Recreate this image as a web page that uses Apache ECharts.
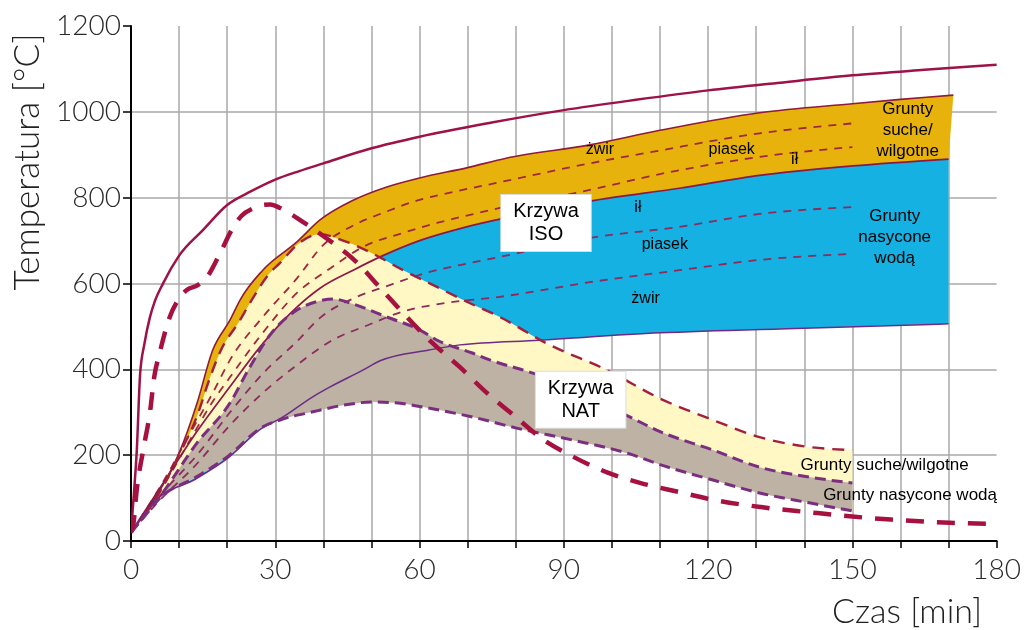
<!DOCTYPE html>
<html><head><meta charset="utf-8">
<script src="https://cdn.jsdelivr.net/npm/echarts@6/dist/echarts.min.js"></script>
<style>html,body{margin:0;padding:0;background:#fff}#c{width:1024px;height:630px}</style>
</head><body><div id="c"></div>
<script>
// x = czas [min], y = temperatura [°C]
const xTickLabels = [0, 30, 60, 90, 120, 150, 180];
const yTickLabels = [0, 200, 400, 600, 800, 1000, 1200];

const isoCurve = [[0,20],[0.6,110],[1.2,210],[1.9,390],[2.8,460],[3.9,520],[5,560],[6.7,601],[10,665],[15,725],[20,783],[25,815],[30,842],[35,862],[40,880],[50,915],[60,942],[75,975],[90,1004],[105,1028],[120,1050],[135,1068],[150,1085],[165,1098],[180,1110]];
const natCurve = [[0,20],[0.5,40],[1.2,120],[2.5,210],[4,305],[4.8,380],[6,440],[8,520],[10,565],[11.6,585],[13.7,595],[15.8,615],[18.5,670],[21.2,730],[23,758],[25.4,775],[27.4,783],[29,784],[31,776],[35.8,743],[40.7,705],[46.9,650],[51.8,590],[56.6,531],[62.6,462],[68.4,405],[74,345],[80,289],[85,242],[92,196],[99,160],[106,135],[114,114],[121,96],[131,79],[141,67],[150,57],[158,50],[169,43],[180,40]];

// ISO – grunty suche/wilgotne (pasmo pomarańczowe)
const isoDryTop = [[0,20],[5,100],[10,205],[13.7,320],[17,445],[20.6,515],[22.7,562],[27.4,631],[34.5,697],[39.3,748],[46.2,794],[53.2,825],[60,846],[70,870],[78,892],[95.4,923],[110,957],[130.7,998],[150,1019],[160,1029],[171,1039]];
const isoDryGravel = [[0,20],[6,125],[12,245],[17,345],[20.6,422],[27.4,522],[34.5,612],[40,690],[46.2,735],[53.2,768],[60,795],[66.9,813],[76.7,836],[95.4,880],[110,910],[130.7,950],[150,973]];
const isoDrySand = [[0,20],[6,115],[12,230],[17,325],[20.6,382],[27.4,485],[34.5,578],[41.4,635],[48.2,685],[56.6,718],[63.6,741],[70.5,760],[76.7,776],[95.4,818],[110,855],[130.7,895],[150,918]];
// granica suche / nasycone
const isoSplit = [[0,20],[6.7,135],[13.7,255],[20.6,360],[27.4,460],[34.5,545],[39.3,589],[46.2,631],[51.8,662],[60,700],[68.4,728],[76.7,750],[95.4,792],[114,822],[130.7,852],[150,874],[170,890]];
// ISO – grunty nasycone wodą (pasmo niebieskie)
const isoWetClaySand = [[0,20],[6,105],[13.7,200],[20.6,300],[27.4,390],[34.5,465],[39.3,520],[46.2,565],[53.2,594],[61.5,625],[68.4,643],[76.7,662],[95.4,706],[114,732],[130.7,762],[150,778]];
const isoWetSandGravel = [[0,20],[6,95],[13.7,180],[20.6,270],[27.4,345],[34.5,410],[41.4,465],[49.7,505],[56.6,535],[65.7,555],[76.7,569],[95.4,603],[114,631],[130.7,655],[150,669]];
const isoWetBottom = [[0,20],[5,93],[13.7,146],[20,192],[27.4,264],[31,285],[37.8,336],[41.4,359],[48.2,398],[51.8,420],[62,445],[68.4,457],[85,468],[110,485],[140,496],[170,506]];

// NAT – pasma
const natDryTop = [[0,20],[5.4,103],[10.2,205],[13.7,290],[16.4,380],[18.5,440],[22.7,515],[24.7,554],[28.9,625],[31,648],[34.5,690],[39.3,715],[43.4,703],[49.7,673],[56.6,631],[63.6,592],[70.5,554],[76.7,522],[86.5,460],[99,398],[110,332],[121,282],[130.7,242],[141,219],[150,212]];
const natWetTop = [[0,20],[6,103],[13.7,228],[20.6,322],[24.7,405],[28.9,480],[34.5,538],[38.7,558],[42,564],[46.2,552],[53.2,522],[60,492],[64,466],[71,438],[74.6,422],[83.6,391],[103.7,289],[110,255],[121,212],[130.7,172],[141,149],[150,135]];
const natWetBottom = [[0,20],[3,62],[6,100],[13.7,150],[20,196],[27.4,266],[31,282],[37.8,301],[45,318],[50,324],[55,322],[60.7,312],[71,289],[80.2,263],[91.9,235],[103.7,203],[110,178],[121,142],[130.7,112],[141,89],[150,70]];

const soilLabels = [
  [97.5, 913, 'żwir'], [124.9, 911, 'piasek'], [138, 888, 'ił'],
  [105.4, 778, 'ił'], [111, 690, 'piasek'], [107, 564, 'żwir']
];
const groupLabels = [
  [161.5, 958, 'Grunty\nsuche/\nwilgotne'],
  [158.8, 708, 'Grunty\nnasycone\nwodą']
];
const natLabels = [
  [156.7, 177, 'Grunty suche/wilgotne'],
  [162, 107, 'Grunty nasycone wodą']
];
const curveBoxes = [
  [86.3, 741, 'Krzywa\nISO'],
  [93.5, 329, 'Krzywa\nNAT']
];

// monotone-x cubic segments through pixel points (rendering only)
function monoSegs(pts) {
  const n = pts.length, h = [], s = [], t = new Array(n);
  for (let i = 0; i < n - 1; i++) {
    h[i] = Math.max(pts[i + 1][0] - pts[i][0], 1e-6);
    s[i] = (pts[i + 1][1] - pts[i][1]) / h[i];
  }
  for (let i = 1; i < n - 1; i++) {
    const s0 = s[i - 1], s1 = s[i], h0 = h[i - 1], h1 = h[i];
    const p = (s0 * h1 + s1 * h0) / (h0 + h1);
    t[i] = (Math.sign(s0) + Math.sign(s1)) * Math.min(Math.abs(s0), Math.abs(s1), 0.5 * Math.abs(p)) || 0;
  }
  if (n > 2) { t[0] = (3 * s[0] - t[1]) / 2; t[n - 1] = (3 * s[n - 2] - t[n - 2]) / 2; }
  else { t[0] = t[1] = s[0]; }
  const segs = [];
  for (let i = 0; i < n - 1; i++) {
    const dx = h[i] / 3;
    segs.push([pts[i], [pts[i][0] + dx, pts[i][1] + t[i] * dx], [pts[i + 1][0] - dx, pts[i + 1][1] - t[i + 1] * dx], pts[i + 1]]);
  }
  return segs;
}
function f(v) { return v.toFixed(2); }
function pathFwd(segs) {
  let d = 'M' + f(segs[0][0][0]) + ' ' + f(segs[0][0][1]);
  segs.forEach(g => { d += ' C' + f(g[1][0]) + ' ' + f(g[1][1]) + ' ' + f(g[2][0]) + ' ' + f(g[2][1]) + ' ' + f(g[3][0]) + ' ' + f(g[3][1]); });
  return d;
}
function pathBack(segs) {
  const last = segs[segs.length - 1][3];
  let d = ' L' + f(last[0]) + ' ' + f(last[1]);
  for (let i = segs.length - 1; i >= 0; i--) {
    const g = segs[i];
    d += ' C' + f(g[2][0]) + ' ' + f(g[2][1]) + ' ' + f(g[1][0]) + ' ' + f(g[1][1]) + ' ' + f(g[0][0]) + ' ' + f(g[0][1]);
  }
  return d;
}
function band(name, upper, lower, color) {
  return {
    name: name, type: 'custom', coordinateSystem: 'cartesian2d', silent: true, clip: true,
    data: [[0, 0]],
    renderItem: function (params, api) {
      const u = monoSegs(upper.map(p => api.coord(p)));
      const l = monoSegs(lower.map(p => api.coord(p)));
      return { type: 'path', shape: { pathData: pathFwd(u) + pathBack(l) + ' Z' }, style: { fill: color, stroke: null } };
    }
  };
}
function curve(name, data, color, width, dash) {
  return {
    name: name, type: 'custom', coordinateSystem: 'cartesian2d', silent: true, clip: true,
    data: [[0, 0]],
    renderItem: function (params, api) {
      const segs = monoSegs(data.map(p => api.coord(p)));
      return { type: 'path', shape: { pathData: pathFwd(segs) },
        style: { fill: 'none', stroke: color, lineWidth: width, lineDash: dash || null, lineCap: 'butt', lineJoin: 'round' } };
    }
  };
}
function textSeries(items, label) {
  return {
    type: 'scatter', symbolSize: 0, silent: true, z: 10,
    itemStyle: { opacity: 1 },
    data: items.map(a => ({ value: [a[0], a[1]], name: a[2] })),
    label: Object.assign({ show: true, position: 'inside', formatter: p => p.name, align: 'center', opacity: 1,
      verticalAlign: 'middle', color: '#000', fontFamily: 'Liberation Sans, Arial, sans-serif' }, label)
  };
}

const axisFont = { fontFamily: 'Lato', fontWeight: 300, fontSize: 28, color: '#2a2a2a' };
const chart = echarts.init(document.getElementById('c'), null, { renderer: 'canvas' });
chart.setOption({
  animation: false,
  backgroundColor: '#ffffff',
  grid: { left: 131, right: 27, top: 26, bottom: 89, containLabel: false },
  xAxis: {
    type: 'value', min: 0, max: 180, interval: 10,
    axisLine: { lineStyle: { color: '#000', width: 2 } },
    axisTick: { length: 7, lineStyle: { color: '#000', width: 1.5 } },
    axisLabel: Object.assign({ margin: 15, formatter: v => (xTickLabels.indexOf(v) >= 0 ? String(v) : '') }, axisFont),
    splitLine: { show: true, showMinLine: false, showMaxLine: false, lineStyle: { color: '#a9a9a9', width: 1.5 } }
  },
  yAxis: {
    type: 'value', min: 0, max: 1200, interval: 200,
    axisLine: { show: true, lineStyle: { color: '#000', width: 2 } },
    axisTick: { show: true, length: 8, lineStyle: { color: '#000', width: 1.5 } },
    axisLabel: Object.assign({ margin: 10, formatter: v => (yTickLabels.indexOf(v) >= 0 ? String(v) : '') }, axisFont),
    splitLine: { show: true, showMinLine: false, showMaxLine: false, lineStyle: { color: '#a9a9a9', width: 1.5 } }
  },
  graphic: [
    { type: 'text', x: 28, y: 162, rotation: Math.PI / 2, z: 100,
      style: { text: 'Temperatura [°C]', font: '300 35px Lato', fill: '#222', textAlign: 'center', textVerticalAlign: 'middle' } },
    { type: 'text', x: 907, y: 612, z: 100,
      style: { text: 'Czas [min]', font: '300 34px Lato', fill: '#222', textAlign: 'center', textVerticalAlign: 'middle' } }
  ],
  series: [
    band('ISO suche/wilgotne', isoDryTop, isoSplit, '#e7b20c'),
    band('ISO nasycone wodą', isoSplit, isoWetBottom, '#14b1e2'),
    band('NAT suche/wilgotne', natDryTop, natWetBottom, '#fff7c4'),
    band('NAT nasycone wodą', natWetTop, natWetBottom, '#bdb2a3'),
    curve('ISO suche żwir', isoDryGravel, '#a0283c', 1.8, [8, 7]),
    curve('ISO suche piasek', isoDrySand, '#a0283c', 1.8, [8, 7]),
    curve('ISO nasycone ił/piasek', isoWetClaySand, '#8d2b5c', 1.8, [8, 7]),
    curve('ISO nasycone piasek/żwir', isoWetSandGravel, '#8d2b5c', 1.8, [8, 7]),
    curve('ISO suche góra', isoDryTop, '#8e1a3c', 1.6),
    curve('ISO granica', isoSplit, '#8a1a45', 1.7),
    curve('ISO nasycone dół', isoWetBottom, '#6b2b86', 1.5),
    curve('NAT suche góra', natDryTop, '#a3203c', 2.4, [12, 8]),
    curve('NAT nasycone góra', natWetTop, '#7b2d80', 3, [11, 6]),
    curve('NAT nasycone dół', natWetBottom, '#7b2d80', 3, [11, 6]),
    curve('Krzywa ISO', isoCurve, '#9d1248', 2.5),
    curve('Krzywa NAT', natCurve, '#a6113f', 4.5, [18, 13]),
    textSeries(soilLabels, { fontSize: 16 }),
    textSeries(groupLabels, { fontSize: 17, lineHeight: 21 }),
    textSeries(natLabels, { fontSize: 17 }),
    textSeries(curveBoxes, { fontSize: 20, lineHeight: 23, backgroundColor: '#ffffff', padding: [5, 12, 5, 12],
      borderColor: '#dcdcdc', borderWidth: 1 })
  ]
});
</script></body></html>
